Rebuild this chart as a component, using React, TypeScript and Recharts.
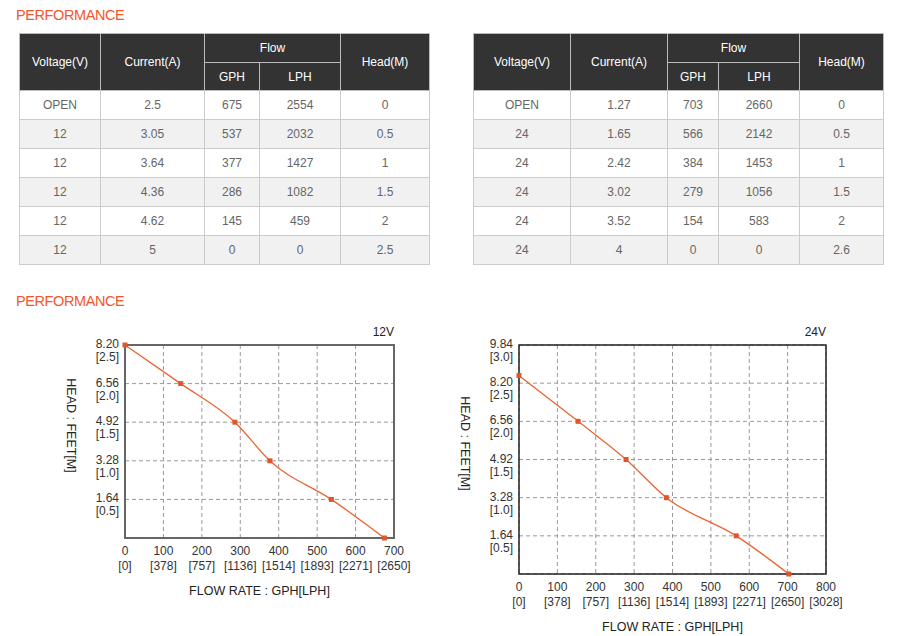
import React from 'react';
import { LineChart, Line, XAxis, YAxis, CartesianGrid, ReferenceArea } from 'recharts';

// 12V performance table
const voltage12 = ['OPEN', '12', '12', '12', '12', '12'];
const current12 = ['2.5', '3.05', '3.64', '4.36', '4.62', '5'];
const gph12 = [675, 537, 377, 286, 145, 0];
const lph12 = [2554, 2032, 1427, 1082, 459, 0];
const head12 = [0, 0.5, 1, 1.5, 2, 2.5];

// 24V performance table
const voltage24 = ['OPEN', '24', '24', '24', '24', '24'];
const current24 = ['1.27', '1.65', '2.42', '3.02', '3.52', '4'];
const gph24 = [703, 566, 384, 279, 154, 0];
const lph24 = [2660, 2142, 1453, 1056, 583, 0];
const head24 = [0, 0.5, 1, 1.5, 2, 2.6];

// axis ticks
const xTicks12 = [0, 100, 200, 300, 400, 500, 600, 700];
const xTicks24 = [0, 100, 200, 300, 400, 500, 600, 700, 800];
const lphTickLabels = ['[0]', '[378]', '[757]', '[1136]', '[1514]', '[1893]', '[2271]', '[2650]', '[3028]'];
const yTicks12 = [0, 0.5, 1, 1.5, 2, 2.5];
const yTicks24 = [0, 0.5, 1, 1.5, 2, 2.5, 3];
const feetTickLabels = ['', '1.64', '3.28', '4.92', '6.56', '8.20', '9.84'];
const meterTickLabels = ['', '[0.5]', '[1.0]', '[1.5]', '[2.0]', '[2.5]', '[3.0]'];

const FONT = '"Liberation Sans", Arial, sans-serif';
const ORANGE = '#ec6333';

function PerfTable({ left, cols, voltage, current, gph, lph, head }: any) {
    const th: React.CSSProperties = {
        background: '#333',
        color: '#fff',
        border: '1px solid #bbb',
        fontWeight: 'normal',
        padding: 0,
    };
    return (
        <table
            style={{
                position: 'absolute',
                left,
                top: 33,
                width: 410,
                borderCollapse: 'collapse',
                tableLayout: 'fixed',
                fontFamily: FONT,
                fontSize: 12,
                textAlign: 'center',
            }}
        >
            <colgroup>
                {cols.map((w: number, i: number) => <col key={i} style={{ width: w }} />)}
            </colgroup>
            <thead>
                <tr style={{ height: 29 }}>
                    <th rowSpan={2} style={th}>Voltage(V)</th>
                    <th rowSpan={2} style={th}>Current(A)</th>
                    <th colSpan={2} style={th}>Flow</th>
                    <th rowSpan={2} style={th}>Head(M)</th>
                </tr>
                <tr style={{ height: 28 }}>
                    <th style={th}>GPH</th>
                    <th style={th}>LPH</th>
                </tr>
            </thead>
            <tbody>
                {voltage.map((v: string, i: number) => (
                    <tr key={i} style={{ height: 29, background: i % 2 ? '#f1f1f1' : '#fff', color: '#666' }}>
                        {[v, current[i], gph[i], lph[i], head[i]].map((c, j) => (
                            <td key={j} style={{ border: '1px solid #ccc', padding: 0 }}>{c}</td>
                        ))}
                    </tr>
                ))}
            </tbody>
        </table>
    );
}

const SquareDot = (props: any) => {
    const { cx, cy } = props;
    if (cx == null || cy == null) return null;
    return <rect x={cx - 2.5} y={cy - 2.5} width={5} height={5} fill="#e0562a" />;
};

const XTick = (props: any) => {
    const { x, y, payload, index } = props;
    return (
        <g fontFamily={FONT} fontSize={12} fill="#333">
            <text x={x} y={y + 9} textAnchor="middle" fill="#333">{payload.value}</text>
            <text x={x} y={y + 24} textAnchor="middle" fill="#333">{lphTickLabels[index]}</text>
        </g>
    );
};

const YTick = (props: any) => {
    const { x, y, index } = props;
    return (
        <g fontFamily={FONT} fontSize={12}>
            <text x={x} y={y + 3} textAnchor="end" fill="#333">{feetTickLabels[index]}</text>
            <text x={x} y={y + 16} textAnchor="end" fill="#333">{meterTickLabels[index]}</text>
        </g>
    );
};

function PerfChart({ left, width, height, gph, head, xTicks, yTicks, xMax, yMax, volts, borderColor, borderWidth }: any) {
    const data = gph
        .map((g: number, i: number) => ({ gph: g, head: head[i] }))
        .sort((a: any, b: any) => a.gph - b.gph);
    return (
        <div style={{ position: 'absolute', left, top: 300 }}>
            <LineChart width={width} height={height} data={data} margin={{ top: 45, right: 40, bottom: 0, left: 50 }}>
                <CartesianGrid stroke="#999" strokeDasharray="4 3" />
                <XAxis
                    dataKey="gph"
                    type="number"
                    domain={[0, xMax]}
                    ticks={xTicks}
                    tick={<XTick />}
                    tickLine={false}
                    axisLine={false}
                    height={62}
                    interval={0}
                    label={{
                        content: ({ viewBox }: any) => (
                            <text
                                x={viewBox.x + viewBox.width / 2}
                                y={viewBox.y + 57}
                                textAnchor="middle"
                                fontFamily={FONT}
                                fontSize={12.5}
                                fill="#222"
                            >
                                FLOW RATE : GPH[LPH]
                            </text>
                        ),
                    }}
                />
                <YAxis
                    dataKey="head"
                    type="number"
                    domain={[0, yMax]}
                    ticks={yTicks}
                    tick={<YTick />}
                    tickLine={false}
                    axisLine={false}
                    tickMargin={0}
                    width={75}
                    interval={0}
                    label={{
                        content: ({ viewBox }: any) => {
                            const lx = viewBox.x + 21;
                            const ly = viewBox.y + viewBox.height / 2 - 16;
                            return (
                                <text
                                    x={lx}
                                    y={ly}
                                    transform={`rotate(90 ${lx} ${ly})`}
                                    textAnchor="middle"
                                    dominantBaseline="central"
                                    fontFamily={FONT}
                                    fontSize={12.5}
                                    fill="#222"
                                >
                                    HEAD : FEET[M]
                                </text>
                            );
                        },
                    }}
                />
                <ReferenceArea
                    x1={0}
                    x2={xMax}
                    y1={0}
                    y2={yMax}
                    fill="none"
                    stroke={borderColor}
                    strokeWidth={borderWidth}
                    fillOpacity={0}
                    label={{
                        content: ({ viewBox }: any) => (
                            <text
                                x={viewBox.x + viewBox.width}
                                y={viewBox.y - 9}
                                textAnchor="end"
                                fontFamily={FONT}
                                fontSize={12}
                                fill="#222"
                            >
                                {volts}
                            </text>
                        ),
                    }}
                />
                <Line
                    type="monotone"
                    dataKey="head"
                    stroke={ORANGE}
                    strokeWidth={1.3}
                    dot={<SquareDot />}
                    activeDot={false}
                    isAnimationActive={false}
                />
            </LineChart>
        </div>
    );
}

const titleStyle: React.CSSProperties = {
    position: 'absolute',
    left: 16,
    fontFamily: FONT,
    fontSize: 14.5,
    letterSpacing: -0.4,
    color: '#f4562a',
    lineHeight: '18px',
};

export default function App() {
    return (
        <div style={{ position: 'absolute', left: 0, top: 0, width: 899, height: 636, background: '#fff', overflow: 'hidden' }}>
            <div style={{ ...titleStyle, top: 6 }}>PERFORMANCE</div>
            <PerfTable left={19} cols={[81, 104, 55, 81, 89]} voltage={voltage12} current={current12} gph={gph12} lph={lph12} head={head12} />
            <PerfTable left={473} cols={[97, 97, 51, 81, 84]} voltage={voltage24} current={current24} gph={gph24} lph={lph24} head={head24} />
            <div style={{ ...titleStyle, top: 292 }}>PERFORMANCE</div>
            <PerfChart
                left={0}
                width={434}
                height={300}
                gph={gph12}
                head={head12}
                xTicks={xTicks12}
                yTicks={yTicks12}
                xMax={700}
                yMax={2.5}
                volts="12V"
                borderColor="#666"
                borderWidth={2}
            />
            <PerfChart
                left={394}
                width={472}
                height={336}
                gph={gph24}
                head={head24}
                xTicks={xTicks24}
                yTicks={yTicks24}
                xMax={800}
                yMax={3}
                volts="24V"
                borderColor="#222"
                borderWidth={1.5}
            />
        </div>
    );
}
